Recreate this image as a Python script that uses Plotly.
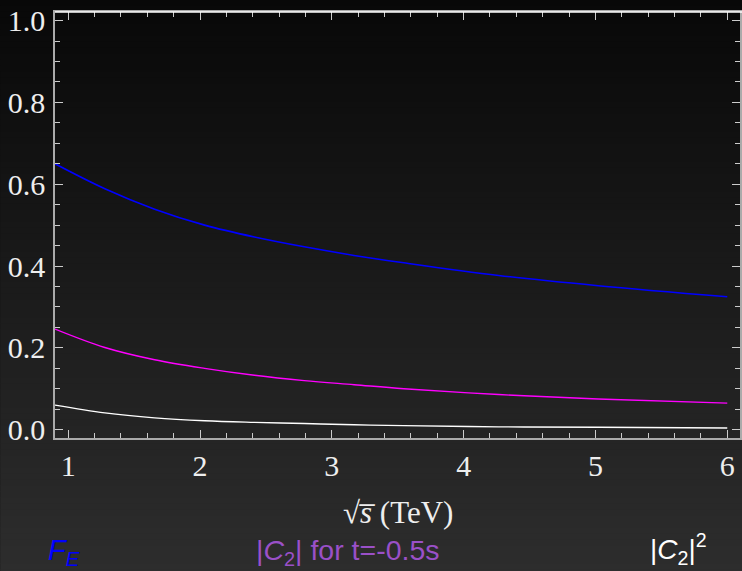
import plotly.graph_objects as go

# Data
x_vals = [0.9, 1.278, 1.656, 2.035, 2.413, 2.791, 3.169, 3.547, 4.266, 5.02, 6.0]
fe_vals = [0.650, 0.589, 0.539, 0.500, 0.471, 0.447, 0.426, 0.408, 0.377, 0.352, 0.325]
c2_vals = [0.246, 0.201, 0.171, 0.150, 0.133, 0.120, 0.110, 0.100, 0.086, 0.075, 0.065]
c2sq_vals = [0.060, 0.041, 0.029, 0.022, 0.018, 0.015, 0.012, 0.010, 0.007, 0.006, 0.004]

y_ticks = [0.0, 0.2, 0.4, 0.6, 0.8, 1.0]
x_ticks = [1, 2, 3, 4, 5, 6]

W, H = 742, 571
L, R, T, B = 55, 0, 12, 133
plot_h = H - T - B
plot_w = W - L - R

fig = go.Figure()
fig.add_trace(go.Scatter(x=x_vals, y=fe_vals, mode="lines", line=dict(color="#0000ff", width=1.6, shape="spline", smoothing=1.0), showlegend=False))
fig.add_trace(go.Scatter(x=x_vals, y=c2_vals, mode="lines", line=dict(color="#ff00ff", width=1.4, shape="spline", smoothing=1.0), showlegend=False))
fig.add_trace(go.Scatter(x=x_vals, y=c2sq_vals, mode="lines", line=dict(color="#ffffff", width=1.4, shape="spline", smoothing=1.0), showlegend=False))

# background vertical gradient
shapes = []
step = 6
for y0 in range(0, H, step):
    y1 = min(H, y0 + step)
    c = int(round(8 + 0.065 * (y0 + y1) / 2))
    shapes.append(dict(type="rect", xref="paper", yref="paper",
                       x0=(0 - L) / plot_w, x1=(W - L) / plot_w + 0.01,
                       y0=(H - B - y1) / plot_h, y1=(H - B - y0) / plot_h + 0.001,
                       fillcolor=f"rgb({c},{c},{c})", line=dict(width=0), layer="below"))
# white top frame
shapes.append(dict(type="line", xref="paper", yref="paper", x0=0, x1=1.01, y0=1, y1=1,
                   line=dict(color="#ffffff", width=1.5), layer="above"))

tickfont = dict(family="Liberation Serif", size=30, color="#eeeeee")
fig.update_layout(
    width=W, height=H,
    margin=dict(l=L, r=R, t=T, b=B),
    paper_bgcolor="#111111",
    plot_bgcolor="rgba(0,0,0,0)",
    shapes=shapes,
    xaxis=dict(range=[0.9, 0.9 + plot_w / 132.2], tickvals=x_ticks, ticks="inside", ticklen=8,
               tickcolor="#cccccc", tickwidth=1, showline=True, linecolor="#aaaaaa", linewidth=1.5,
               mirror="allticks", showgrid=False, zeroline=False, tickfont=tickfont,
               ticklabelstandoff=0,
               minor=dict(dtick=0.2, tick0=0, ticks="inside", ticklen=5, tickcolor="#cccccc", showgrid=False)),
    yaxis=dict(range=[-0.0203, 1.021], tickvals=y_ticks, tickformat=".1f", ticks="inside", ticklen=8,
               tickcolor="#cccccc", tickwidth=1, showline=True, linecolor="#aaaaaa", linewidth=1.5,
               mirror="allticks", showgrid=False, zeroline=False, tickfont=tickfont,
               ticklabelstandoff=2,
               minor=dict(dtick=0.05, tick0=0, ticks="inside", ticklen=5, tickcolor="#cccccc", showgrid=False)),
    annotations=[
        dict(text="√<i>s\u0305</i> (TeV)", xref="paper", yref="paper",
             x=0.5, y=(H - B - 512) / plot_h, xanchor="center", yanchor="middle", showarrow=False,
             font=dict(family="Liberation Serif", size=31, color="#eeeeee")),
        dict(text="<i>F</i><sub><i>E</i></sub>", xref="paper", yref="paper",
             x=(46 - L) / plot_w, y=(H - B - 552) / plot_h, xanchor="left", yanchor="middle", showarrow=False,
             font=dict(family="Liberation Sans", size=29, color="#0000ff")),
        dict(text="|<i>C</i><sub>2</sub>| for t=-0.5s", xref="paper", yref="paper",
             x=(255 - L) / plot_w, y=(H - B - 552) / plot_h, xanchor="left", yanchor="middle", showarrow=False,
             font=dict(family="Liberation Sans", size=28.5, color="#9a50c8")),
        dict(text="|<i>C</i><sub>2</sub>|<sup>2</sup>", xref="paper", yref="paper",
             x=(650 - L) / plot_w, y=(H - B - 549) / plot_h, xanchor="left", yanchor="middle", showarrow=False,
             font=dict(family="Liberation Sans", size=28, color="#ffffff")),
    ],
)

fig.write_html("out.html")
